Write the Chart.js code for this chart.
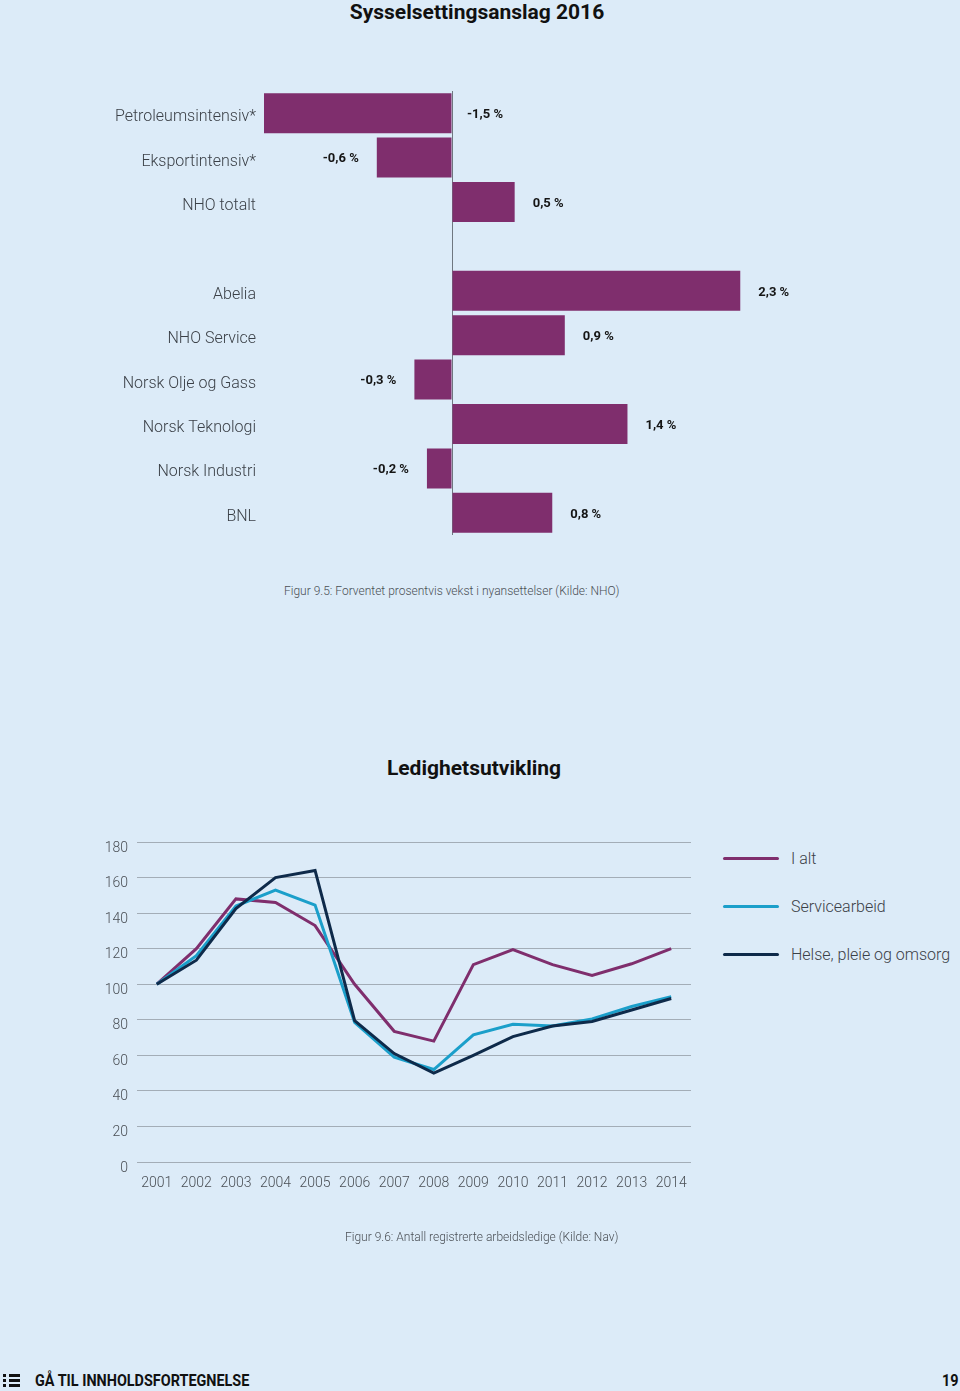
<!DOCTYPE html>
<html>
<head>
<meta charset="utf-8">
<script src="https://cdn.jsdelivr.net/npm/chart.js@4/dist/chart.umd.min.js"></script>
<style>
  body { margin: 0; width: 960px; height: 1391px; position: relative; overflow: hidden;
         background: #dcebf8; font-family: Roboto, "Open Sans", sans-serif; color: #3b4047; }
  .abs { position: absolute; }
  .title { left: 0; font-weight: 700; font-size: 21px; color: #111; text-align: center; white-space: nowrap; }
  .caption { font-size: 12px; font-weight: 300; color: #4a4f55; white-space: nowrap; }
  canvas { position: absolute; left: 0; }
  .legend-item { position: absolute; left: 723px; height: 24px; display: flex; align-items: center; }
  .legend-item span.swatch { width: 56px; height: 3px; border-radius: 2px; margin-right: 12px; }
  .legend-item span.txt { font-size: 16px; font-weight: 300; color: #3b4047; white-space: nowrap; }
  .footer { font-family: Roboto, sans-serif; font-weight: 700; font-size: 16px; color: #111;
            transform: scaleX(0.9); transform-origin: left top; white-space: nowrap; }
  .dot { position: absolute; width: 3px; height: 3px; background: #111; }
  .bar { position: absolute; height: 3px; background: #111; width: 11px; }
</style>
</head>
<body>

<div class="abs title" style="top:0; width:954px;">Sysselsettingsanslag 2016</div>
<canvas id="bars" width="960" height="444" style="top:91px"></canvas>
<div class="abs caption" style="left:284px; top:584px;">Figur 9.5: Forventet prosentvis vekst i nyansettelser (Kilde: NHO)</div>

<div class="abs title" style="top:756px; width:948px;">Ledighetsutvikling</div>
<canvas id="lines" width="700" height="400" style="top:832px"></canvas>
<div id="legend"></div>
<div class="abs caption" style="left:345px; top:1230px;">Figur 9.6: Antall registrerte arbeidsledige (Kilde: Nav)</div>

<div class="abs" style="left:3px; top:1373px; width:20px; height:16px;">
  <div class="dot" style="left:0; top:1px"></div><div class="bar" style="left:6px; top:1px"></div>
  <div class="dot" style="left:0; top:6px"></div><div class="bar" style="left:6px; top:6px"></div>
  <div class="dot" style="left:0; top:11px"></div><div class="bar" style="left:6px; top:11px"></div>
</div>
<div class="abs footer" style="left:35px; top:1371px;">GÅ TIL INNHOLDSFORTEGNELSE</div>
<div class="abs footer" style="left:942px; top:1371px;">19</div>

<script>
// --- Sysselsettingsanslag 2016 (prosent) ---
const barCategories = ['Petroleumsintensiv*', 'Eksportintensiv*', 'NHO totalt', '',
  'Abelia', 'NHO Service', 'Norsk Olje og Gass', 'Norsk Teknologi', 'Norsk Industri', 'BNL'];
const barValues = [-1.5, -0.6, 0.5, null, 2.3, 0.9, -0.3, 1.4, -0.2, 0.8];

// --- Ledighetsutvikling (indeks, 2001 = 100) ---
const years = ['2001', '2002', '2003', '2004', '2005', '2006', '2007',
  '2008', '2009', '2010', '2011', '2012', '2013', '2014'];
const iAlt = [100, 120, 148, 146, 133, 100, 73.5, 68, 111, 119.5, 111, 105, 111.5, 120];
const servicearbeid = [100, 116, 144, 153, 144.5, 78.5, 59, 52, 71.5, 77.5, 76.5, 80.5, 87.5, 93];
const helse = [100, 113.5, 142.5, 160, 164, 79.5, 61, 50, 60, 70.5, 76.5, 79, 85.5, 92];
const yTicks = [0, 20, 40, 60, 80, 100, 120, 140, 160, 180];

const PURPLE = '#7f2e6d';
const CYAN = '#1b9fca';
const NAVY = '#0e2a4a';
const lightFont = { family: 'Roboto', weight: 300 };

const barLabels = {
  id: 'barLabels',
  afterDatasetsDraw(chart) {
    const { ctx, chartArea } = chart;
    const zero = chart.scales.x.getPixelForValue(0);
    ctx.save();
    ctx.font = 'bold 13px Roboto';
    ctx.fillStyle = '#151515';
    ctx.textBaseline = 'middle';
    chart.getDatasetMeta(0).data.forEach((bar, i) => {
      const v = barValues[i];
      if (v == null) return;
      const text = v.toFixed(1).replace('.', ',') + ' %';
      const w = ctx.measureText(text).width;
      const y = bar.y + 1.5;
      if (v >= 0) {
        ctx.textAlign = 'left';
        ctx.fillText(text, bar.x + 18, y);
      } else if (bar.x - 18 - w > chartArea.left) {
        ctx.textAlign = 'right';
        ctx.fillText(text, bar.x - 18, y);
      } else {
        ctx.textAlign = 'left';
        ctx.fillText(text, zero + 15, y);
      }
    });
    ctx.restore();
  }
};

new Chart(document.getElementById('bars'), {
  type: 'bar',
  data: {
    labels: barCategories,
    datasets: [{
      data: barValues,
      backgroundColor: PURPLE,
      barPercentage: 0.9,
      categoryPercentage: 1
    }]
  },
  options: {
    indexAxis: 'y',
    responsive: false,
    animation: false,
    layout: { padding: { left: 0, right: 132, top: 0, bottom: 0 } },
    plugins: { legend: { display: false }, tooltip: { enabled: false } },
    scales: {
      x: {
        min: -1.5,
        max: 3,
        ticks: { display: false, stepSize: 0.5 },
        border: { display: false },
        grid: {
          drawTicks: false,
          color: (c) => c.tick.value === 0 ? '#6f7780' : 'transparent'
        },
        afterFit: (s) => { s.height = 0; }
      },
      y: {
        ticks: { color: '#3b4047', font: { ...lightFont, size: 16 }, padding: 8, labelOffset: 4 },
        grid: { display: false, drawTicks: false },
        border: { display: false },
        afterFit: (s) => { s.width = 264; s.paddingTop = 0; s.paddingBottom = 0; }
      }
    }
  },
  plugins: [barLabels]
});

const series = [
  { label: 'I alt', data: iAlt, color: PURPLE, order: 3 },
  { label: 'Servicearbeid', data: servicearbeid, color: CYAN, order: 2 },
  { label: 'Helse, pleie og omsorg', data: helse, color: NAVY, order: 1 }
];

new Chart(document.getElementById('lines'), {
  type: 'line',
  data: {
    labels: years,
    datasets: series.map(s => ({
      label: s.label,
      data: s.data,
      borderColor: s.color,
      backgroundColor: s.color,
      order: s.order
    }))
  },
  options: {
    responsive: false,
    animation: false,
    layout: { padding: { left: 0, right: 9, top: 10, bottom: 40 } },
    elements: { point: { radius: 0 }, line: { borderWidth: 3, tension: 0 } },
    plugins: { legend: { display: false }, tooltip: { enabled: false } },
    scales: {
      x: {
        offset: true,
        grid: { display: false, drawTicks: false },
        border: { display: false },
        ticks: { color: '#4a4f55', font: { ...lightFont, size: 14 }, padding: 13, maxRotation: 0, autoSkip: false },
        afterFit: (s) => { s.height = 30; s.paddingLeft = 0; s.paddingRight = 0; }
      },
      y: {
        min: 0,
        max: 180,
        afterBuildTicks: (s) => { s.ticks = yTicks.map(v => ({ value: v })); },
        ticks: { color: '#4a4f55', font: { ...lightFont, size: 14 }, padding: 9, labelOffset: 6 },
        grid: { color: '#a3adb7', lineWidth: 1, drawTicks: false },
        border: { display: false },
        afterFit: (s) => { s.width = 137; s.paddingTop = 0; s.paddingBottom = 0; }
      }
    }
  }
});

// legend
const legend = document.getElementById('legend');
series.forEach((s, i) => {
  const item = document.createElement('div');
  item.className = 'legend-item';
  item.style.top = (846 + i * 48) + 'px';
  item.innerHTML = '<span class="swatch" style="background:' + s.color + '"></span><span class="txt">' + s.label + '</span>';
  legend.appendChild(item);
});
</script>
</body>
</html>
